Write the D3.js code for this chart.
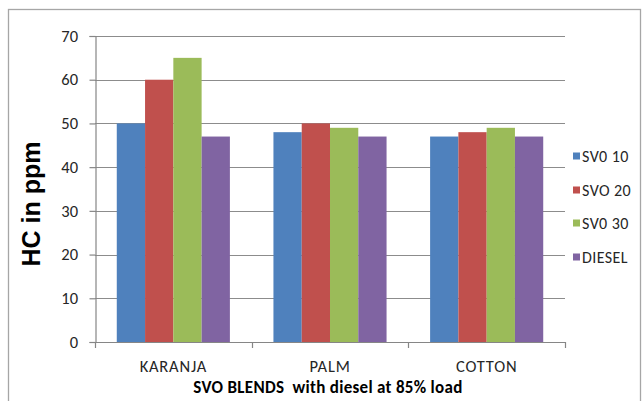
<!DOCTYPE html>
<html>
<head>
<meta charset="utf-8">
<script src="https://cdn.jsdelivr.net/npm/d3@7/dist/d3.min.js"></script>
<style>
  html, body { margin: 0; padding: 0; background: #fff; }
  svg { display: block; }
  text { font-family: Carlito, Lato, "Liberation Sans", sans-serif; fill: #262626; }
</style>
</head>
<body>
<svg id="chart" width="644" height="401"></svg>
<script>
// ---- data ----
const categories = ["KARANJA", "PALM", "COTTON"];
const seriesNames = ["SV0 10", "SVO 20", "SV0 30", "DIESEL"];
const svo10  = [50, 48, 47];
const svo20  = [60, 50, 48];
const svo30  = [65, 49, 49];
const diesel = [47, 47, 47];
const yTicks = [0, 10, 20, 30, 40, 50, 60, 70];
const colors = ["#4F81BD", "#C0504D", "#9BBB59", "#8064A2"];
const yTitle = "HC in ppm";
const xTitle = "SVO BLENDS  with diesel at 85% load";

const seriesValues = [svo10, svo20, svo30, diesel];
const table = categories.map((c, i) => ({
  cat: c,
  vals: seriesNames.map((s, j) => ({ key: s, value: seriesValues[j][i], color: colors[j] }))
}));

const svg = d3.select("#chart");
const pL = 95, pR = 565, pT = 36, pB = 342;

// outer frame
svg.append("rect")
  .attr("x", 8.5).attr("y", 9.5).attr("width", 632).attr("height", 400)
  .attr("fill", "none").attr("stroke", "#a6a6a6").attr("stroke-width", 1.3);

const y = d3.scaleLinear().domain([0, 70]).range([pB, pT]);
const x0 = d3.scaleBand().domain(categories).range([pL, pR]).padding(0);
const x1 = d3.scaleBand().domain(seriesNames).range([0, x0.bandwidth()])
  .paddingInner(0).paddingOuter(0.77);

// gridlines
svg.append("g").selectAll("line").data(yTicks.filter(t => t > 0)).join("line")
  .attr("x1", pL).attr("x2", pR)
  .attr("y1", d => Math.round(y(d)) + 0.5).attr("y2", d => Math.round(y(d)) + 0.5)
  .attr("stroke", "#8c8c8c").attr("stroke-width", 1.2);

// bars
const groups = svg.append("g").selectAll("g").data(table).join("g")
  .attr("transform", d => `translate(${x0(d.cat)},0)`);
groups.selectAll("rect").data(d => d.vals).join("rect")
  .attr("x", d => x1(d.key))
  .attr("width", x1.bandwidth())
  .attr("y", d => y(d.value))
  .attr("height", d => y(0) - y(d.value))
  .attr("fill", d => d.color);

// y axis
const yAxis = d3.axisLeft(y).tickValues(yTicks).tickSize(6).tickPadding(11);
const gy = svg.append("g").attr("transform", `translate(${pL + 0.5},0)`).call(yAxis);
gy.select(".domain").attr("stroke", "#868686").attr("stroke-width", 1.2);
gy.selectAll(".tick line").attr("stroke", "#868686").attr("stroke-width", 1.2);
gy.selectAll(".tick text").attr("font-size", 16.5).style("fill", "#262626")
  .style("font-family", "Carlito, Lato, sans-serif").style("letter-spacing", "0.3px");

// x axis (labels at centres, ticks at category boundaries)
const xAxis = d3.axisBottom(x0).tickSize(0).tickPadding(18);
const gx = svg.append("g").attr("transform", `translate(0,${pB + 0.5})`).call(xAxis);
gx.select(".domain").remove();
gx.selectAll(".tick text").attr("font-size", 16.5).style("fill", "#262626")
  .style("font-family", "Carlito, Lato, sans-serif").style("letter-spacing", "0.8px");
svg.append("line").attr("x1", pL).attr("x2", pR)
  .attr("y1", pB + 0.5).attr("y2", pB + 0.5)
  .attr("stroke", "#868686").attr("stroke-width", 1.2);
const bounds = categories.map(c => x0(c)).concat([x0(categories[categories.length - 1]) + x0.bandwidth()]);
svg.append("g").selectAll("line").data(bounds).join("line")
  .attr("x1", d => Math.round(d) + 0.5).attr("x2", d => Math.round(d) + 0.5)
  .attr("y1", pB).attr("y2", pB + 6)
  .attr("stroke", "#868686").attr("stroke-width", 1.2);

// axis titles
svg.append("text")
  .attr("transform", `translate(40,204) rotate(-90)`)
  .attr("text-anchor", "middle")
  .style("font-family", "'Liberation Sans', Arial, sans-serif")
  .attr("font-weight", "bold").attr("font-size", 25).style("fill", "#000")
  .text(yTitle);

svg.append("text")
  .attr("x", 328).attr("y", 393)
  .attr("text-anchor", "middle")
  .style("white-space", "pre").style("letter-spacing", "0.3px")
  .attr("font-weight", "bold").attr("font-size", 17).style("fill", "#000")
  .text(xTitle);

// legend
const legendY = [156, 190, 223, 257];
const lg = svg.append("g").selectAll("g").data(seriesNames).join("g")
  .attr("transform", (d, i) => `translate(573,${legendY[i]})`);
lg.append("rect").attr("x", 0).attr("y", -3.5).attr("width", 7).attr("height", 7)
  .attr("fill", (d, i) => colors[i]);
lg.append("text").attr("x", 9).attr("y", 0).attr("dy", "0.35em")
  .attr("font-size", 16).style("letter-spacing", "0.4px").text(d => d);
</script>
</body>
</html>
